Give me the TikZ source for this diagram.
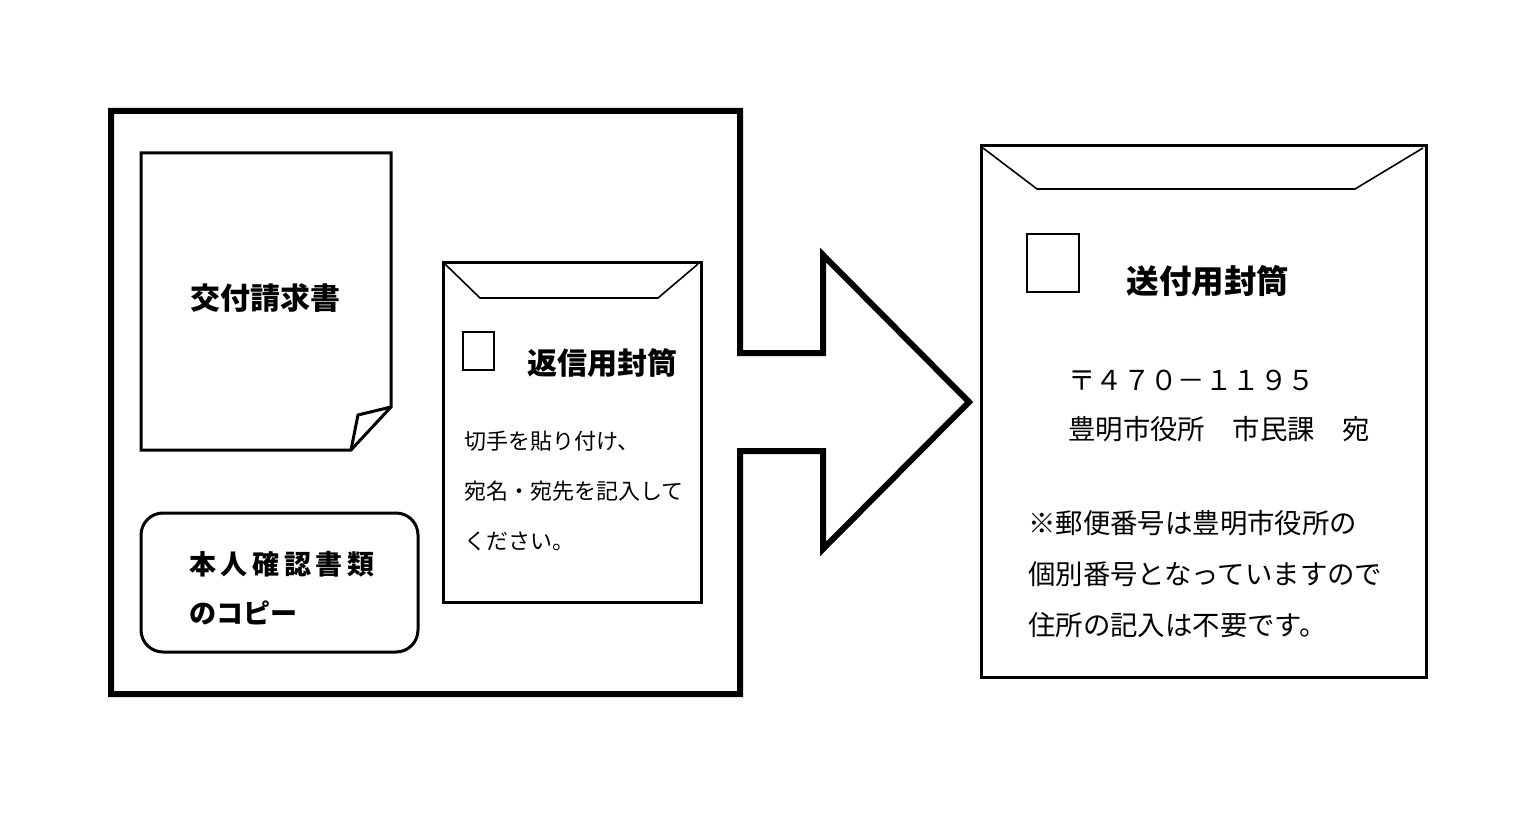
\documentclass[tikz,border=0pt]{standalone}
\usepackage{fontspec}
\newfontfamily\jp{Noto Sans CJK JP}
\usetikzlibrary{positioning}

\begin{document}
\begin{tikzpicture}[x=1pt, y=-1pt, line join=miter,
  heavy/.style={line width=6pt},
  sheet/.style={line width=3pt},
  flap/.style={line width=1.6pt},
  stamp/.style={line width=2pt},
  title/.style={inner sep=0pt, font=\jp\bfseries\fontsize{30}{36}\selectfont},
  body/.style={inner sep=0pt, align=left, anchor=north west, font=\jp\fontsize{22}{50}\selectfont}]
  \useasboundingbox (0,0) rectangle (1525,813);

  % Outer box, opening into the arrow
  \draw[heavy] (740,353) -- (740,111) -- (111,111) -- (111,694) -- (740,694) -- (740,451)
    -- (823,451) -- (823,549) -- (969,402) -- (823,255) -- (823,353) -- cycle;

  % Request form (dog-eared sheet)
  \draw[sheet] (141,153) -- (391,153) -- (391,407) -- (351,450) -- (141,450) -- cycle;
  \draw[sheet] (391,407) -- (358,415) -- (351,450);
  \node[title] (form) at (265,298) {交付請求書};

  % Copy of ID
  \draw[sheet, rounded corners=22pt] (141,513) rectangle (418,652);
  \node[body, font=\jp\bfseries\fontsize{27}{49}\selectfont] (idcopy) at (189,551)
    {本\hspace{4.7pt}人\hspace{4.7pt}確\hspace{4.7pt}認\hspace{4.7pt}書\hspace{4.7pt}類\\のコピー};

  % Return envelope
  \draw[sheet] (443,262) rectangle (701,602);
  \draw[flap] (445,264) -- (480,298) -- (658,298) -- (698,264);
  \draw[stamp] (463,332) rectangle (494,370);
  \node[title] (retenv) at (602,363) {返信用封筒};
  \node[body] (retnote) at (464,431) {切手を貼り付け、\\宛名・宛先を記入して\\ください。};

  % Sending envelope
  \draw[sheet] (981,146) rectangle (1426,677);
  \draw[flap] (983,148) -- (1037,189) -- (1355,189) -- (1423,148);
  \draw[stamp] (1027,234) rectangle (1079,292);
  \node[title, font=\jp\bfseries\fontsize{32.5}{36}\selectfont] (sendenv) at (1208,281) {送付用封筒};
  \node[body, font=\jp\fontsize{27.4}{49}\selectfont] (address) at (1068,370)
    {〒４７０－１１９５\\豊明市役所　市民課　宛};
  \node[body, font=\jp\fontsize{27.4}{51}\selectfont] (notice) at (1028,510)
    {※郵便番号は豊明市役所の\\個別番号となっていますので\\住所の記入は不要です。};
\end{tikzpicture}
\end{document}
